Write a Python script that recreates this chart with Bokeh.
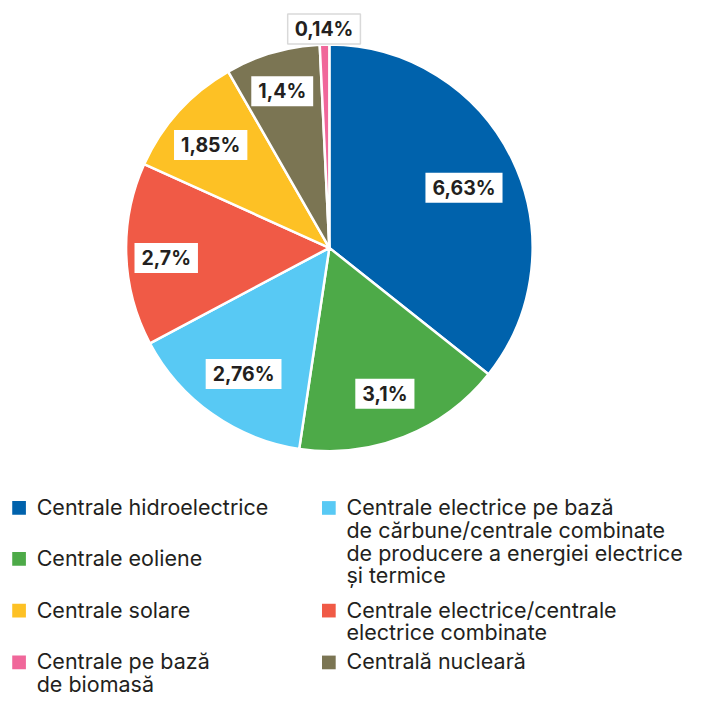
import math
from bokeh.plotting import figure
from bokeh.models import Range1d
from bokeh.core.properties import value
from bokeh.embed import file_html
from bokeh.resources import INLINE

# ---- data ----
categories = [
    "Centrale hidroelectrice",
    "Centrale eoliene",
    "Centrale electrice pe bază\nde cărbune/centrale combinate\nde producere a energiei electrice\nși termice",
    "Centrale electrice/centrale\nelectrice combinate",
    "Centrale solare",
    "Centrală nucleară",
    "Centrale pe bază\nde biomasă",
]
values = [6.63, 3.1, 2.76, 2.7, 1.85, 1.4, 0.14]
value_labels = ["6,63%", "3,1%", "2,76%", "2,7%", "1,85%", "1,4%", "0,14%"]
colors = ["#0062AC", "#4DAA48", "#58C9F4", "#F05A46", "#FDC125", "#7B7553", "#F0679A"]

# ---- layout (reference pixel space, y measured from top) ----
W, H = 703, 719
CX, CY, R = 336.5, 253, 208
label_r = [153, 155, 152, 167, 164, 172, 229]
LABEL_SHIFT = 5
legend_order = [0, 1, 4, 6, 2, 3, 5]
legend_col_x = [12, 329]
legend_col = [0, 0, 0, 0, 1, 1, 1]
legend_base = [526, 578, 631, 684, 526, 631, 684]
LINE_H = 23.3
TEXT_SHIFT = 8   # svg alphabetic-baseline correction
FONT = "Inter"

p = figure(width=687, height=703, x_range=Range1d(0, W), y_range=Range1d(0, H),
           output_backend="svg", toolbar_location=None, min_border=0)
p.axis.visible = False
p.grid.visible = False
p.outline_line_color = None
p.background_fill_color = "white"
p.border_fill_color = "white"

def fy(y):
    return H - y

total = sum(values)
starts, ends, lx, ly = [], [], [], []
cum = 0.0
for v, r in zip(values, label_r):
    a0 = math.pi / 2 - 2 * math.pi * cum / total
    a1 = math.pi / 2 - 2 * math.pi * (cum + v) / total
    starts.append(a0)
    ends.append(a1)
    mid = (a0 + a1) / 2
    lx.append(CX + r * math.cos(mid))
    ly.append(fy(CY) + r * math.sin(mid) - LABEL_SHIFT)
    cum += v

p.wedge(x=CX, y=fy(CY), radius=R, start_angle=starts, end_angle=ends,
        direction="clock", fill_color=colors, line_color="white", line_width=2.5)

# value labels
p.text(x=lx[:-1], y=ly[:-1], text=value_labels[:-1], text_align="center", text_baseline="middle",
       text_font=value(FONT), text_font_style="bold", text_font_size="19.5px", text_color="#231F20",
       background_fill_color="white", padding=(7, 3))
p.text(x=lx[-1:], y=ly[-1:], text=value_labels[-1:], text_align="center", text_baseline="middle",
       text_font=value(FONT), text_font_style="bold", text_font_size="19.5px", text_color="#231F20",
       background_fill_color="white", border_line_color="#D9D9D9", border_line_width=1.5,
       padding=(7, 3))

# legend
sq_x, sq_y, sq_c, tx, ty, tt = [], [], [], [], [], []
for k, idx in enumerate(legend_order):
    x0 = legend_col_x[legend_col[k]]
    b = legend_base[k]
    sq_x.append(x0 + 7)
    sq_y.append(fy(b - 7))
    sq_c.append(colors[idx])
    for j, line in enumerate(categories[idx].split("\n")):
        tx.append(x0 + 25)
        ty.append(fy(b + j * LINE_H - TEXT_SHIFT))
        tt.append(line)

p.rect(x=sq_x, y=sq_y, width=14, height=14, fill_color=sq_c, line_color=None)
p.text(x=tx, y=ty, text=tt, text_align="left", text_baseline="alphabetic",
       text_font=value(FONT), text_font_size="21.5px", text_color="#231F20")

open("out.html", "w").write(file_html(p, INLINE))
